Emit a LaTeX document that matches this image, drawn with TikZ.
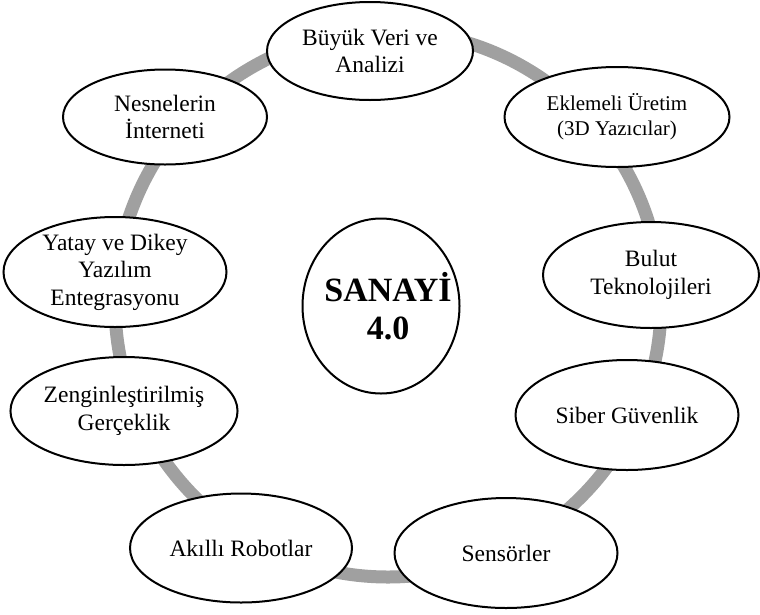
\documentclass[tikz,border=0pt]{standalone}
\usepackage{fontspec}
\setmainfont{Liberation Serif}
\usetikzlibrary{shapes.geometric}
\definecolor{ringgray}{RGB}{160,160,160}
\tikzset{
  topic/.style={draw=black, line width=2pt, fill=white, ellipse, inner sep=0pt, align=center,
    font=\fontsize{23.5}{27.5}\selectfont},
  coreshape/.style={draw=black, line width=2pt, fill=white, ellipse, inner sep=0pt},
  coretext/.style={align=center, font=\fontsize{34}{38}\selectfont\bfseries},
  ringline/.style={draw=ringgray, line width=13pt}
}
\begin{document}
\begin{tikzpicture}[x=1pt,y=-1pt]
\useasboundingbox (0,0) rectangle (760,614);
\node[ringline, circle, minimum size=546pt, inner sep=0pt] (ring) at (388,304) {};
\node[coreshape, minimum width=157pt, minimum height=175pt] (core) at (381,306) {};
\node[coretext] (coret) at (388,306) {SANAYİ\\4.0};
\node[topic, minimum width=206pt, minimum height=98pt] (bigdata) at (370,51) {Büyük Veri ve\\Analizi};
\node[topic, minimum width=225pt, minimum height=100pt, font=\fontsize{21}{25}\selectfont] (additive) at (617,117) {Eklemeli Üretim\\(3D Yazıcılar)};
\node[topic, minimum width=216pt, minimum height=106pt] (cloud) at (651,275) {Bulut\\Teknolojileri};
\node[topic, minimum width=223pt, minimum height=110pt] (cyber) at (627,415) {Siber Güvenlik};
\node[topic, minimum width=223pt, minimum height=110pt] (sensors) at (506,553) {Sensörler};
\node[topic, minimum width=222pt, minimum height=109pt] (robots) at (241,548) {Akıllı Robotlar};
\node[topic, minimum width=222pt, minimum height=108pt] (ar) at (124,411) {Zenginleştirilmiş\\Gerçeklik};
\node[topic, minimum width=223pt, minimum height=110pt] (integration) at (115,272) {Yatay ve Dikey\\Yazılım\\Entegrasyonu};
\node[topic, minimum width=204pt, minimum height=95pt] (iot) at (165,117) {Nesnelerin\\İnterneti};
\end{tikzpicture}
\end{document}
